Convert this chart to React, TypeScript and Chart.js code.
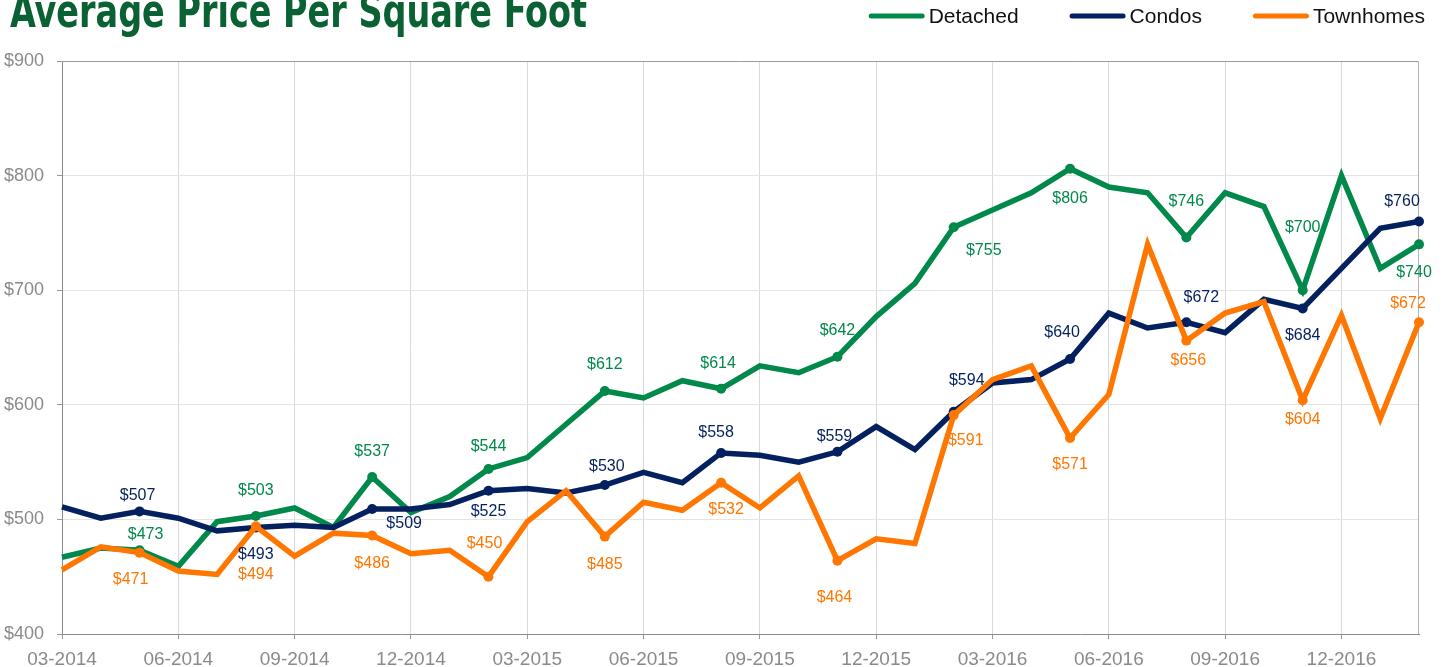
import React, { useEffect, useRef } from "react";
import { Chart, registerables } from "chart.js";

Chart.register(...registerables);

const months: string[] = [
  "03-2014", "04-2014", "05-2014", "06-2014", "07-2014", "08-2014", "09-2014", "10-2014", "11-2014", "12-2014",
  "01-2015", "02-2015", "03-2015", "04-2015", "05-2015", "06-2015", "07-2015", "08-2015", "09-2015", "10-2015", "11-2015", "12-2015",
  "01-2016", "02-2016", "03-2016", "04-2016", "05-2016", "06-2016", "07-2016", "08-2016", "09-2016", "10-2016", "11-2016", "12-2016",
  "01-2017", "02-2017",
];

const detached: number[] = [
  467, 475, 473, 459, 498, 503, 510, 493, 537, 506, 520, 544, 554, 583, 612, 606, 621, 614,
  634, 628, 642, 677, 706, 755, 770, 785, 806, 790, 785, 746, 785, 773, 700, 800, 719, 740,
];

const condos: number[] = [
  511, 501, 507, 501, 490, 493, 495, 493, 509, 509, 513, 525, 527, 523, 530, 541, 532, 558,
  556, 550, 559, 581, 561, 594, 619, 622, 640, 680, 667, 672, 663, 692, 684, 719, 754, 760,
];

const townhomes: number[] = [
  456, 476, 471, 455, 452, 494, 468, 488, 486, 470, 473, 450, 498, 525, 485, 515, 508, 532,
  510, 538, 464, 483, 479, 591, 622, 634, 571, 609, 740, 656, 680, 690, 604, 678, 588, 672,
];

const seriesNames: string[] = ["Detached", "Condos", "Townhomes"];
const labeledPoints: number[] = [2, 5, 8, 11, 14, 17, 20, 23, 26, 29, 32, 35];
const titleText = "Average Price Per Square Foot";

const GREEN = "#00894a";
const NAVY = "#04205f";
const ORANGE = "#ff7600";
const TITLE_GREEN = "#0a6133";
const AXIS_TEXT = "#8a8a8a";
const FONT = "'Liberation Sans', Arial, Helvetica, sans-serif";

// label offsets [dx, dy] relative to the point, per series, per labelled point
const labelOffsets: number[][][] = [
  [[6, -16], [0, -25], [0, -25], [0, -22], [0, -26], [-3, -25], [0, -26], [30, 23], [0, 30], [0, -36], [0, -63], [-5, 28]],
  [[-2, -16], [0, 27], [32, 15], [0, 21], [2, -18], [-5, -20], [-3, -15], [13, -31], [-8, -26], [15, -25], [0, 27], [-17, -20]],
  [[-9, 27], [0, 48], [0, 28], [-4, -33], [0, 28], [5, 27], [-3, 37], [12, 25], [0, 27], [2, 20], [0, 19], [-11, -19]],
];

const framePlugin = {
  id: "frame",
  beforeDatasetsDraw(chart: any) {
    const { ctx, chartArea } = chart;
    ctx.save();
    ctx.lineWidth = 1;
    ctx.strokeStyle = "#9c9c9c";
    ctx.beginPath();
    ctx.moveTo(chartArea.left, Math.round(chartArea.top) + 0.5);
    ctx.lineTo(chartArea.right, Math.round(chartArea.top) + 0.5);
    ctx.stroke();
    ctx.strokeStyle = "#b4b4b4";
    ctx.beginPath();
    ctx.moveTo(Math.round(chartArea.right) - 0.5, chartArea.top);
    ctx.lineTo(Math.round(chartArea.right) - 0.5, chartArea.bottom);
    ctx.stroke();
    ctx.restore();
  },
};

const labelPlugin = {
  id: "pointLabels",
  afterDatasetsDraw(chart: any) {
    const { ctx } = chart;
    ctx.save();
    ctx.font = `16px ${FONT}`;
    ctx.textAlign = "center";
    ctx.textBaseline = "middle";
    chart.data.datasets.forEach((ds: any, di: number) => {
      const meta = chart.getDatasetMeta(di);
      ctx.fillStyle = ds.borderColor;
      labeledPoints.forEach((idx, k) => {
        const el = meta.data[idx];
        if (!el) return;
        const [dx, dy] = labelOffsets[di][k];
        ctx.fillText("$" + ds.data[idx], el.x + dx, el.y + dy);
      });
    });
    ctx.restore();
  },
};

const headerPlugin = {
  id: "header",
  afterDraw(chart: any) {
    const { ctx } = chart;
    ctx.save();
    // title
    ctx.font = `bold 47px 'Liberation Sans Narrow', 'DejaVu Sans Condensed', 'Liberation Sans', Arial, sans-serif`;
    ctx.fillStyle = TITLE_GREEN;
    ctx.textBaseline = "alphabetic";
    ctx.textAlign = "left";
    const tw = ctx.measureText(titleText).width;
    const target = 577;
    ctx.translate(10, 27);
    ctx.scale(target / tw, 1);
    ctx.fillText(titleText, 0, 0);
    ctx.restore();

    // legend
    ctx.save();
    ctx.font = `21px ${FONT}`;
    ctx.textBaseline = "alphabetic";
    ctx.textAlign = "left";
    const items = chart.data.datasets.map((d: any) => ({ label: d.label, color: d.borderColor }));
    let right = 1425;
    const pos: { textX: number; swX: number }[] = [];
    for (let k = items.length - 1; k >= 0; k--) {
      const w = ctx.measureText(items[k].label).width;
      const textX = right - w;
      const swX = textX - 60;
      pos[k] = { textX, swX };
      right = swX - 51;
    }
    items.forEach((it: any, k: number) => {
      ctx.strokeStyle = it.color;
      ctx.lineWidth = 5;
      ctx.lineCap = "round";
      ctx.beginPath();
      ctx.moveTo(pos[k].swX + 2.5, 16);
      ctx.lineTo(pos[k].swX + 53.5, 16);
      ctx.stroke();
      ctx.fillStyle = "#111111";
      ctx.fillText(it.label, pos[k].textX, 23);
    });
    ctx.restore();
  },
};

export default function App() {
  const ref = useRef<HTMLCanvasElement>(null);

  useEffect(() => {
    const canvas = ref.current;
    if (!canvas) return;
    Chart.defaults.font.family = FONT;
    const pointRadius = (c: any) => (labeledPoints.includes(c.dataIndex) ? 5 : 0);
    const mk = (label: string, data: number[], color: string, order: number) => ({
      label,
      data,
      borderColor: color,
      backgroundColor: color,
      pointBackgroundColor: color,
      pointBorderColor: color,
      pointBorderWidth: 0,
      pointRadius,
      pointHoverRadius: pointRadius,
      borderWidth: 5.5,
      tension: 0,
      fill: false,
      order,
    });
    const chart = new Chart(canvas, {
      type: "line",
      data: {
        labels: months,
        datasets: [
          mk(seriesNames[0], detached, GREEN, 2),
          mk(seriesNames[1], condos, NAVY, 1),
          mk(seriesNames[2], townhomes, ORANGE, 0),
        ],
      },
      options: {
        responsive: false,
        animation: false,
        devicePixelRatio: 1,
        layout: { padding: { top: 61, right: 29, left: 0, bottom: 0 } },
        plugins: {
          legend: { display: false },
          tooltip: { enabled: false },
          title: { display: false },
        },
        scales: {
          x: {
            type: "category",
            grid: { color: "#dadada", tickLength: 5, tickColor: "#999999" },
            border: { color: "#8c8c8c" },
            ticks: {
              autoSkip: false,
              maxRotation: 0,
              color: AXIS_TEXT,
              font: { size: 19, family: FONT },
              padding: 9,
              callback: (_v: any, i: number) => (i % 3 === 0 ? months[i] : null),
            },
            afterFit: (s: any) => {
              s.height = 33;
            },
          },
          y: {
            min: 400,
            max: 900,
            grid: { color: "#e4e4e4", tickLength: 5, tickColor: "#999999" },
            border: { color: "#8c8c8c" },
            ticks: {
              stepSize: 100,
              color: AXIS_TEXT,
              font: { size: 18, family: FONT },
              padding: 13,
              callback: (v: any) => "$" + v,
            },
            afterFit: (s: any) => {
              s.width = 62;
            },
          },
        },
      } as any,
      plugins: [framePlugin, labelPlugin, headerPlugin],
    });
    return () => chart.destroy();
  }, []);

  return (
    <canvas
      ref={ref}
      width={1448}
      height={667}
      style={{ position: "absolute", left: 0, top: 0, width: 1448, height: 667 }}
    />
  );
}
